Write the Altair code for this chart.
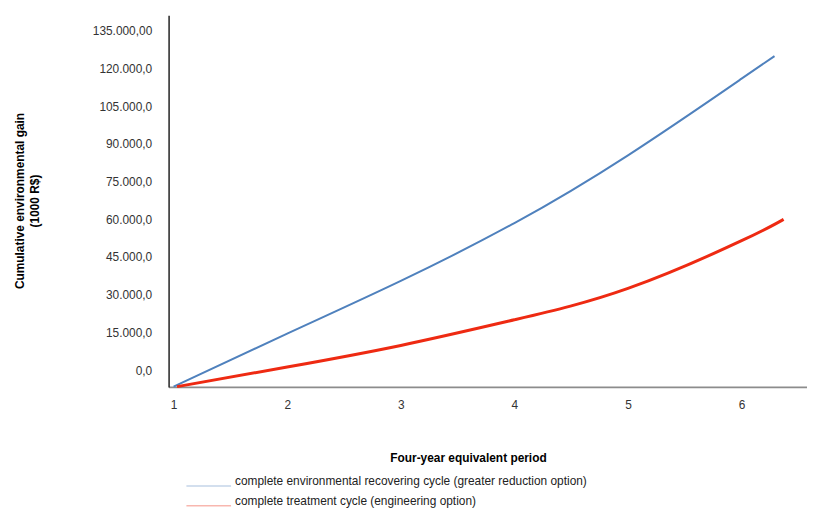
import altair as alt
import pandas as pd

# Series data
blue_name = "complete environmental recovering cycle (greater reduction option)"
red_name = "complete treatment cycle (engineering option)"

blue_x = [1.0, 2.0, 3.0, 4.0, 5.0, 6.0, 6.29]
blue_y = [-6600, 14500, 35500, 58500, 85500, 116000, 125000]

red_x = [1.03, 2.0, 3.0, 4.0, 5.0, 6.0, 6.37]
red_y = [-6600, 1200, 9800, 20000, 32500, 51500, 60000]

y_ticks = [0, 15000, 30000, 45000, 60000, 75000, 90000, 105000, 120000, 135000]
y_labels = ["0,0", "15.000,0", "30.000,0", "45.000,0", "60.000,0", "75.000,0",
            "90.000,0", "105.000,0", "120.000,0", "135.000,00"]
x_ticks = [1, 2, 3, 4, 5, 6]

rows = []
for i, (x, y) in enumerate(zip(blue_x, blue_y)):
    rows.append({"period": x, "gain": y, "series": blue_name, "order": i})
for i, (x, y) in enumerate(zip(red_x, red_y)):
    rows.append({"period": x, "gain": y, "series": red_name, "order": i})
df = pd.DataFrame(rows)

label_expr = "''"
for v, lab in zip(y_ticks, y_labels):
    label_expr = f"datum.value == {v} ? '{lab}' : ({label_expr})"

font = "Liberation Sans"

x_enc = alt.X("period:Q",
              scale=alt.Scale(domain=[0.956, 6.576], nice=False, zero=False),
              axis=alt.Axis(values=x_ticks, format="d", grid=False, ticks=False,
                            domainColor="#8c8c8c", domainWidth=2,
                            labelFont=font, labelFontSize=12, labelColor="#333333",
                            labelPadding=13,
                            title="Four-year equivalent period",
                            titleFont=font, titleFontSize=12, titleFontWeight="bold",
                            titleColor="#000000",
                            titleX=302, titleY=71, titleBaseline="middle",
                            titleAnchor="start", titleAlign="center"))
y_enc = alt.Y("gain:Q",
              scale=alt.Scale(domain=[-6700, 141300], nice=False, zero=False),
              axis=alt.Axis(values=y_ticks, labelExpr=label_expr, grid=False, ticks=False,
                            domainColor="#222222", domainWidth=1.5,
                            labelFont=font, labelFontSize=12, labelColor="#333333",
                            labelPadding=17,
                            title=["Cumulative environmental gain", "(1000 R$)"],
                            titleFont=font, titleFontSize=12, titleFontWeight="bold",
                            titleColor="#000000", titleLineHeight=15,
                            titleAngle=270, titleX=-150, titleY=187,
                            titleBaseline="middle", titleAlign="center"))
color_enc = alt.Color("series:N",
                      scale=alt.Scale(domain=[blue_name, red_name],
                                      range=["#4f81bd", "#ee2a12"]),
                      legend=alt.Legend(orient="none", legendX=34.5, legendY=464,
                                        title=None, symbolType="M-4.5,1H4.5",
                                        symbolSize=100, symbolStrokeWidth=1,
                                        symbolOpacity=0.5,
                                        labelFont=font, labelFontSize=12,
                                        labelColor="#222222", labelOffset=20.5,
                                        rowPadding=7, labelLimit=600))

base = alt.Chart(df).encode(x=x_enc, y=y_enc, color=color_enc, order="order:Q")

blue_line = base.transform_filter(alt.datum.series == blue_name).mark_line(
    interpolate="natural", strokeWidth=2)
red_line = base.transform_filter(alt.datum.series == red_name).mark_line(
    interpolate="natural", strokeWidth=3)

chart = alt.layer(blue_line, red_line).properties(
    width=644, height=375,
    padding={"left": 162, "top": 5, "right": 0, "bottom": 123},
    autosize=alt.AutoSizeParams(type="none"),
).configure_view(stroke=None)

chart.save("out.html", embed_options={"renderer": "svg", "actions": False})
